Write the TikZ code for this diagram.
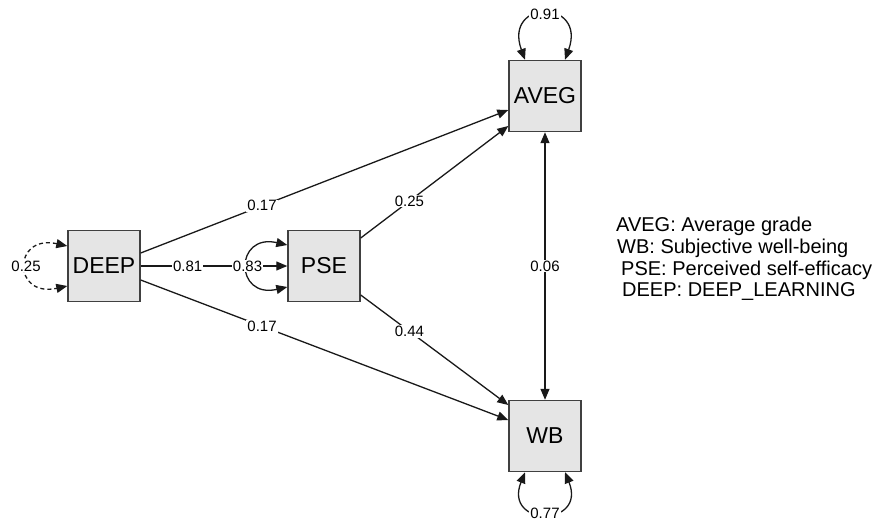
\documentclass[tikz,border=0pt]{standalone}
\usepackage{fontspec}
\setmainfont{Liberation Sans}
\usetikzlibrary{arrows.meta,positioning,calc}

\begin{document}
\begin{tikzpicture}[x=1pt,y=-1pt,
  var/.style={draw=black!75,line width=1.4pt,fill=black!10,minimum width=72pt,minimum height=71pt,inner sep=0pt,font=\fontsize{23}{26}\selectfont},
  arr/.style={draw=black!90,line width=1.3pt,-{Triangle[length=11pt,width=9pt]}},
  twoway/.style={arr,{Triangle[length=11pt,width=9pt]}-{Triangle[length=11pt,width=9pt]}},
  coef/.style={fill=white,inner sep=1pt,font=\fontsize{15}{17}\selectfont},
  legend/.style={anchor=west,inner sep=0pt,font=\fontsize{20}{23}\selectfont}]
  \useasboundingbox (0,0) rectangle (876,523);

  % observed variables
  \node[var] (deep) at (104,266) {DEEP};
  \node[var] (pse)  at (324,266) {PSE};
  \node[var] (aveg) at (545,96)  {AVEG};
  \node[var] (wb)   at (545,436) {WB};

  % regression paths
  \draw[arr] ([yshift=13pt]deep.east) -- node[coef,pos=0.33] {0.17} ([yshift=-14pt]aveg.west);
  \draw[arr] ([yshift=-14pt]deep.east) -- node[coef,pos=0.33] {0.17} ([yshift=16pt]wb.west);
  \draw[arr] ([yshift=28pt]pse.east) -- node[coef,pos=0.33] {0.25} ([yshift=-30pt]aveg.west);
  \draw[arr] ([yshift=-29pt]pse.east) -- node[coef,pos=0.33] {0.44} ([yshift=31pt]wb.west);
  \draw[arr] (deep.east) -- node[coef,pos=0.32] {0.81} (pse.west);
  \draw[twoway] (aveg.south) -- node[coef] {0.06} (wb.north);

  % variances
  \draw[twoway,dash pattern=on 4pt off 3pt] ([yshift=20pt]deep.west) .. controls +(-55,-12) and +(-55,12) .. node[coef] {0.25} ([yshift=-20pt]deep.west);
  \draw[twoway] ([yshift=21pt]pse.west) .. controls +(-53,-12) and +(-53,12) .. node[coef] {0.83} ([yshift=-21pt]pse.west);
  \draw[twoway] ([xshift=-20pt]aveg.north) .. controls +(-22,-61) and +(22,-61) .. node[coef] {0.91} ([xshift=20pt]aveg.north);
  \draw[twoway] ([xshift=-20pt]wb.south) .. controls +(-22,55) and +(22,55) .. node[coef] {0.77} ([xshift=20pt]wb.south);

  % key
  \node[legend] (k1) at (616,226) {AVEG: Average grade};
  \node[legend] (k2) at (617,248) {WB: Subjective well-being};
  \node[legend] (k3) at (621,270) {PSE: Perceived self-efficacy};
  \node[legend] (k4) at (622,291) {DEEP: DEEP\_LEARNING};
\end{tikzpicture}
\end{document}
